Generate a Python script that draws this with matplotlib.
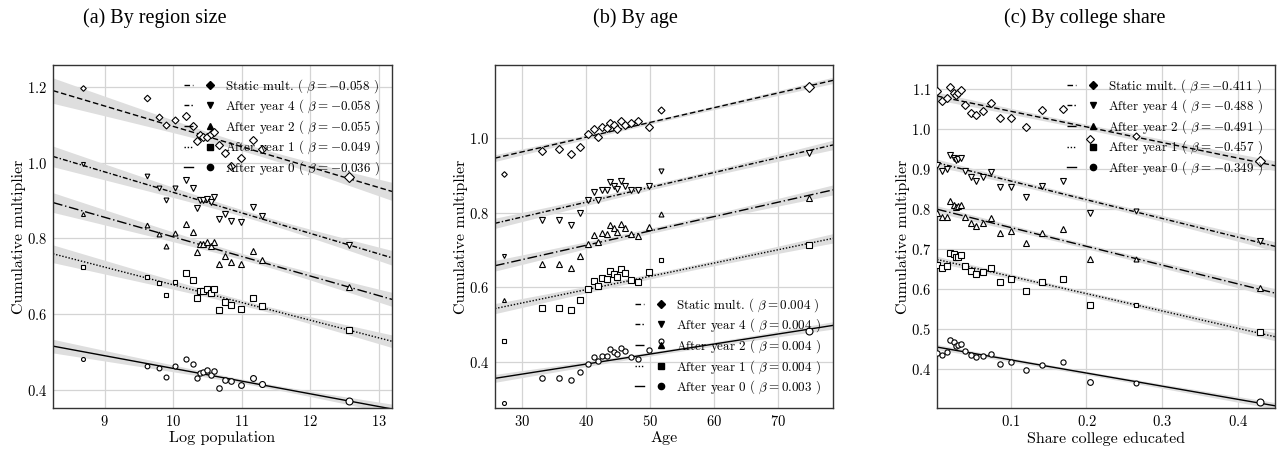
import numpy as np
import matplotlib
matplotlib.use("Agg")
import matplotlib.pyplot as plt
from matplotlib.lines import Line2D
from matplotlib.legend_handler import HandlerTuple

# ---------------- data ----------------
series_names = ["Static mult.", "After year 4", "After year 2", "After year 1", "After year 0"]

# Panel (a): by region size
a_x = [8.68, 9.61, 9.79, 9.90, 10.02, 10.18, 10.29, 10.34, 10.39, 10.43,
       10.49, 10.55, 10.60, 10.67, 10.75, 10.84, 10.99, 11.16, 11.30, 12.57]
a_static = [1.196, 1.169, 1.120, 1.099, 1.111, 1.122, 1.097, 1.057, 1.073, 1.068,
            1.068, 1.075, 1.080, 1.046, 1.025, 0.991, 1.011, 1.060, 1.035, 0.961]
a_year4 = [0.996, 0.965, 0.934, 0.902, 0.932, 0.954, 0.932, 0.880, 0.901, 0.902,
           0.904, 0.897, 0.908, 0.852, 0.865, 0.845, 0.843, 0.882, 0.858, 0.784]
a_year2 = [0.865, 0.835, 0.813, 0.779, 0.814, 0.838, 0.817, 0.765, 0.785, 0.786,
           0.790, 0.781, 0.790, 0.732, 0.753, 0.739, 0.732, 0.767, 0.744, 0.672]
a_year1 = [0.726, 0.698, 0.682, 0.651, 0.685, 0.709, 0.691, 0.643, 0.661, 0.663,
           0.668, 0.656, 0.667, 0.611, 0.634, 0.624, 0.614, 0.643, 0.623, 0.558]
a_year0 = [0.482, 0.463, 0.459, 0.435, 0.463, 0.482, 0.470, 0.432, 0.446, 0.448,
           0.454, 0.441, 0.450, 0.406, 0.428, 0.424, 0.413, 0.432, 0.418, 0.371]
a_logpop = a_x
a_betas = ["-0.058", "-0.058", "-0.055", "-0.049", "-0.036"]

# Panel (b): by age
b_x = [27.25, 33.22, 35.82, 37.64, 39.14, 40.39, 41.22, 41.95, 42.52, 43.25,
       43.82, 44.34, 44.91, 45.43, 46.16, 46.99, 48.18, 49.90, 51.66, 74.83]
b_static = [0.902, 0.964, 0.969, 0.956, 0.976, 1.009, 1.022, 1.001, 1.029, 1.026,
            1.040, 1.034, 1.022, 1.045, 1.034, 1.040, 1.044, 1.028, 1.074, 1.135]
b_year4 = [0.683, 0.779, 0.779, 0.768, 0.798, 0.834, 0.854, 0.834, 0.860, 0.859,
           0.881, 0.872, 0.862, 0.884, 0.871, 0.860, 0.859, 0.870, 0.911, 0.960]
b_year2 = [0.567, 0.662, 0.662, 0.652, 0.684, 0.716, 0.739, 0.720, 0.745, 0.743,
           0.767, 0.758, 0.749, 0.770, 0.758, 0.742, 0.738, 0.761, 0.797, 0.840]
b_year1 = [0.458, 0.546, 0.546, 0.539, 0.567, 0.596, 0.618, 0.603, 0.624, 0.623,
           0.645, 0.636, 0.629, 0.649, 0.638, 0.620, 0.615, 0.641, 0.673, 0.712]
b_year0 = [0.292, 0.358, 0.358, 0.353, 0.374, 0.396, 0.413, 0.403, 0.417, 0.417,
           0.436, 0.428, 0.422, 0.437, 0.431, 0.414, 0.410, 0.433, 0.456, 0.484]
b_logpop = [8.7, 10.6, 10.6, 10.5, 10.4, 10.4, 10.3, 10.4, 10.3, 10.3,
            10.3, 10.3, 10.3, 10.3, 10.3, 10.3, 10.3, 10.4, 10.0, 12.6]
b_betas = ["0.004", "0.004", "0.004", "0.004", "0.003"]

# Panel (c): by college share
c_x = [0.0031, 0.0093, 0.0159, 0.0203, 0.0247, 0.0282, 0.0304, 0.0344, 0.0401, 0.0471,
       0.0537, 0.0630, 0.0740, 0.0855, 0.1000, 0.1207, 0.1410, 0.1687, 0.2044, 0.2656, 0.4286]
c_static = [1.095, 1.070, 1.076, 1.105, 1.090, 1.084, 1.090, 1.097, 1.059, 1.038,
            1.035, 1.043, 1.063, 1.027, 1.026, 1.005, 1.047, 1.049, 0.973, 0.982, 0.918]
c_year4 = [0.909, 0.895, 0.899, 0.934, 0.926, 0.922, 0.925, 0.927, 0.895, 0.880,
           0.870, 0.879, 0.891, 0.854, 0.855, 0.830, 0.857, 0.869, 0.790, 0.793, 0.718]
c_year2 = [0.789, 0.778, 0.780, 0.818, 0.809, 0.805, 0.807, 0.809, 0.780, 0.765,
           0.757, 0.764, 0.776, 0.738, 0.743, 0.715, 0.740, 0.750, 0.675, 0.675, 0.601]
c_year1 = [0.660, 0.651, 0.657, 0.690, 0.686, 0.680, 0.679, 0.683, 0.657, 0.645,
           0.637, 0.641, 0.651, 0.617, 0.624, 0.595, 0.617, 0.625, 0.560, 0.558, 0.491]
c_year0 = [0.439, 0.435, 0.441, 0.471, 0.466, 0.457, 0.460, 0.462, 0.443, 0.435,
           0.428, 0.431, 0.437, 0.411, 0.416, 0.396, 0.409, 0.416, 0.366, 0.364, 0.316]
c_logpop = [10.4, 10.2, 10.3, 10.6, 10.4, 10.4, 10.4, 10.5, 10.4, 10.5,
            10.4, 10.4, 10.5, 10.5, 10.5, 10.6, 10.4, 10.3, 11.0, 10.0, 12.6]
c_betas = ["-0.411", "-0.488", "-0.491", "-0.457", "-0.349"]

titles = ["(a) By region size", "(b) By age", "(c) By college share"]
xlabels = ["Log population", "Age", "Share college educated"]
ylabel = "Cumulative multiplier"

# ---------------- style ----------------
plt.rcParams["font.family"] = "serif"
plt.rcParams["font.serif"] = ["cmr10"]
plt.rcParams["mathtext.fontset"] = "cm"
plt.rcParams["axes.formatter.use_mathtext"] = True
plt.rcParams["axes.unicode_minus"] = False

markers = ["D", "v", "^", "s", "o"]
linestyles = [(0, (4, 2)), (0, (3.5, 1.5, 1, 1.5)), (0, (7, 2, 1, 2)), (0, (1, 1.3)), "-"]

fig = plt.figure(figsize=(12.79, 4.51), dpi=100)

panels = [
    dict(x=a_x, ys=[a_static, a_year4, a_year2, a_year1, a_year0], pop=a_logpop, betas=a_betas,
         rect=[53 / 1279, 1 - 408 / 451, 339 / 1279, 343 / 451],
         xlim=(8.244, 13.195), ylim=(0.3535, 1.257),
         xticks=[9, 10, 11, 12, 13], yticks=[0.4, 0.6, 0.8, 1.0, 1.2],
         loc="upper right", k=2.0, title_x=155 / 1279),
    dict(x=b_x, ys=[b_static, b_year4, b_year2, b_year1, b_year0], pop=b_logpop, betas=b_betas,
         rect=[495 / 1279, 1 - 408 / 451, 338 / 1279, 343 / 451],
         xlim=(25.84, 78.57), ylim=(0.278, 1.194),
         xticks=[30, 40, 50, 60, 70], yticks=[0.4, 0.6, 0.8, 1.0],
         loc="lower right", k=1.3, title_x=635 / 1279),
    dict(x=c_x, ys=[c_static, c_year4, c_year2, c_year1, c_year0], pop=c_logpop, betas=c_betas,
         rect=[937 / 1279, 1 - 408 / 451, 338 / 1279, 343 / 451],
         xlim=(0.0026, 0.4489), ylim=(0.3015, 1.159),
         xticks=[0.1, 0.2, 0.3, 0.4], yticks=[0.4, 0.5, 0.6, 0.7, 0.8, 0.9, 1.0, 1.1],
         loc="upper right", k=1.6, title_x=1085 / 1279),
]

for i, p in enumerate(panels):
    ax = fig.add_axes(p["rect"])
    x = np.asarray(p["x"], dtype=float)
    lp = np.asarray(p["pop"], dtype=float)
    ms = 2.8 + 0.55 * (lp - 8.6)
    w = np.exp(lp - lp.max())
    w = w * len(w) / w.sum()
    xs = np.linspace(p["xlim"][0], p["xlim"][1], 200)
    handles, labels = [], []
    for j, yv in enumerate(p["ys"]):
        y = np.asarray(yv, dtype=float)
        n = len(x)
        xw = np.sum(w * x) / np.sum(w)
        yw = np.sum(w * y) / np.sum(w)
        sxx = np.sum(w * (x - xw) ** 2)
        b = np.sum(w * (x - xw) * (y - yw)) / sxx
        a = yw - b * xw
        resid = y - (a + b * x)
        s = np.sqrt(np.sum(w * resid ** 2) / (n - 2))
        se = s * np.sqrt(1.0 / np.sum(w) + (xs - xw) ** 2 / sxx)
        yhat = a + b * xs
        ax.fill_between(xs, yhat - p["k"] * se, yhat + p["k"] * se,
                        color="#dedede", lw=0, zorder=1)
        ax.plot(xs, yhat, color="black", lw=1.0, ls=linestyles[j], zorder=2)
        for xi, yi, mi in zip(x, y, ms):
            ax.plot([xi], [yi], marker=markers[j], ms=mi, mfc="white", mec="black",
                    mew=0.8, ls="none", zorder=3)
        h_line = Line2D([], [], color="black", lw=1.0, ls=linestyles[j])
        h_mark = Line2D([], [], color="black", marker=markers[j],
                        ms=4.5 if markers[j] != "D" else 3.6, ls="none")
        handles.append((h_line, h_mark))
        labels.append(series_names[j] + " ( $\\beta = " + p["betas"][j] + "$ )")

    ax.set_xlim(*p["xlim"])
    ax.set_ylim(*p["ylim"])
    ax.set_xticks(p["xticks"])
    ax.set_yticks(p["yticks"])
    ax.tick_params(length=0, labelsize=10.5, pad=4)
    ax.grid(True, color="#d4d4d4", lw=0.9)
    ax.set_axisbelow(True)
    for sp in ax.spines.values():
        sp.set_color("#333333")
        sp.set_linewidth(1.0)
    ax.set_xlabel(xlabels[i], fontsize=11.5, labelpad=2)
    ax.set_ylabel(ylabel, fontsize=11.5, labelpad=1)
    ax.legend(handles, labels, loc=p["loc"], frameon=False, fontsize=9.4,
              handler_map={tuple: HandlerTuple(ndivide=None, pad=0.9)},
              handlelength=2.4, handletextpad=0.8, labelspacing=0.22,
              borderaxespad=0.5)
    fig.text(p["title_x"], 1 - 18 / 451, titles[i], ha="center", va="center",
             fontsize=14.5, family="Liberation Serif")

fig.savefig("out.png", dpi=100)
